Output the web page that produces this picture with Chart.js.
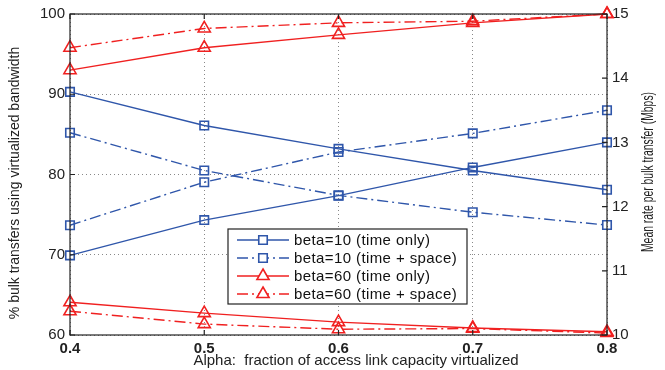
<!DOCTYPE html>
<html>
<head>
<meta charset="utf-8">
<script src="https://cdn.jsdelivr.net/npm/chart.js@4.4.1/dist/chart.umd.min.js"></script>
<style>
  html, body { margin: 0; padding: 0; background: #fff; }
  #wrap { width: 665px; height: 370px; }
</style>
</head>
<body>
<div id="wrap"><canvas id="c" width="665" height="370"></canvas></div>
<script>
// alpha values (x axis)
const alpha = [0.4, 0.5, 0.6, 0.7, 0.8];

// left axis: % bulk transfers using virtualized bandwidth
const pctB10Time = [90.3, 86.1, 83.2, 80.5, 78.1];
const pctB10Space = [85.2, 80.5, 77.4, 75.3, 73.7];
const pctB60Time = [93.0, 95.8, 97.4, 98.9, 100.0];
const pctB60Space = [95.8, 98.2, 98.9, 99.1, 100.0];

// right axis: mean rate per bulk transfer (Mbps)
const rateB10Time = [11.24, 11.79, 12.17, 12.61, 13.0];
const rateB10Space = [11.71, 12.38, 12.85, 13.14, 13.5];
const rateB60Time = [10.51, 10.34, 10.2, 10.11, 10.05];
const rateB60Space = [10.37, 10.17, 10.09, 10.1, 10.03];

const legendLabels = ['beta=10 (time only)', 'beta=10 (time + space)', 'beta=60 (time only)', 'beta=60 (time + space)'];
const leftTicks = [60, 70, 80, 90, 100];
const rightTicks = [10, 11, 12, 13, 14, 15];

const BLUE = '#2f56aa';
const RED = '#f02020';
const DASHDOT = [11, 4, 2, 4];
const FONT = '"Liberation Sans", Arial, Helvetica, sans-serif';

function pts(ys) {
    return ys.map((y, i) => ({ x: alpha[i], y: y }));
}

function ds(ys, axis, color, dashed, style) {
    return {
        data: pts(ys),
        yAxisID: axis,
        borderColor: color,
        borderWidth: 1.4,
        borderDash: dashed ? DASHDOT : [],
        pointStyle: style,
        pointRadius: style === 'rect' ? 6 : 7,
        pointBorderWidth: 1.6,
        pointBackgroundColor: 'rgba(0,0,0,0)',
        pointBorderColor: color,
        fill: false,
        tension: 0,
        clip: false
    };
}

// legend, box, titles and inward ticks
const decor = {
    id: 'decor',
    afterDatasetsDraw(chart) {
        const ctx = chart.ctx;
        const a = chart.chartArea;
        const yl = chart.scales.y;
        const yr = chart.scales.y2;
        const x = chart.scales.x;
        ctx.save();

        // box
        ctx.strokeStyle = '#222';
        ctx.lineWidth = 1.2;
        ctx.setLineDash([]);
        ctx.strokeRect(a.left, a.top, a.right - a.left, a.bottom - a.top);

        // inward ticks
        ctx.beginPath();
        leftTicks.forEach(v => {
            const py = yl.getPixelForValue(v);
            ctx.moveTo(a.left, py); ctx.lineTo(a.left + 5, py);
        });
        rightTicks.forEach(v => {
            const py = yr.getPixelForValue(v);
            ctx.moveTo(a.right, py); ctx.lineTo(a.right - 5, py);
        });
        alpha.forEach(v => {
            const px = x.getPixelForValue(v);
            ctx.moveTo(px, a.bottom); ctx.lineTo(px, a.bottom - 5);
            ctx.moveTo(px, a.top); ctx.lineTo(px, a.top + 5);
        });
        ctx.stroke();

        // titles
        ctx.fillStyle = '#222';
        ctx.textAlign = 'center';
        ctx.textBaseline = 'middle';
        ctx.font = '15px ' + FONT;
        ctx.fillText('Alpha:  fraction of access link capacity virtualized', 356, 361);
        ctx.font = '14px ' + FONT;
        ctx.save();
        ctx.translate(15, 183);
        ctx.rotate(-Math.PI / 2);
        ctx.fillText('% bulk transfers using virtualized bandwidth', 0, 0);
        ctx.restore();
        ctx.font = '16px ' + FONT;
        ctx.save();
        ctx.translate(649, 172);
        ctx.rotate(-Math.PI / 2);
        ctx.scale(0.65, 1);
        ctx.fillText('Mean rate per bulk transfer (Mbps)', 0, 0);
        ctx.restore();

        // legend
        const bx = 228, by = 229, bw = 239, bh = 75;
        ctx.fillStyle = '#fff';
        ctx.fillRect(bx, by, bw, bh);
        ctx.strokeStyle = '#222';
        ctx.lineWidth = 1.2;
        ctx.strokeRect(bx, by, bw, bh);
        const colors = [BLUE, BLUE, RED, RED];
        const dashes = [false, true, false, true];
        const styles = ['rect', 'rect', 'triangle', 'triangle'];
        legendLabels.forEach((t, i) => {
            const ry = by + 11 + i * 18;
            ctx.strokeStyle = colors[i];
            ctx.lineWidth = 1.4;
            ctx.setLineDash(dashes[i] ? DASHDOT : []);
            ctx.beginPath();
            ctx.moveTo(bx + 9, ry); ctx.lineTo(bx + 61, ry);
            ctx.stroke();
            ctx.setLineDash([]);
            ctx.lineWidth = 1.6;
            ctx.fillStyle = '#fff';
            Chart.helpers.drawPoint(ctx, {
                pointStyle: styles[i], radius: styles[i] === 'rect' ? 6 : 7,
                borderWidth: 1.6, rotation: 0
            }, bx + 35, ry);
            ctx.fillStyle = '#111';
            ctx.font = '15px ' + FONT;
            ctx.letterSpacing = '0.4px';
            ctx.textAlign = 'left';
            ctx.fillText(t, bx + 66, ry + 1);
            ctx.letterSpacing = '0px';
        });
        ctx.restore();
    }
};

new Chart(document.getElementById('c'), {
    type: 'line',
    data: {
        datasets: [
            ds(pctB10Time, 'y', BLUE, false, 'rect'),
            ds(pctB10Space, 'y', BLUE, true, 'rect'),
            ds(pctB60Time, 'y', RED, false, 'triangle'),
            ds(pctB60Space, 'y', RED, true, 'triangle'),
            ds(rateB10Time, 'y2', BLUE, false, 'rect'),
            ds(rateB10Space, 'y2', BLUE, true, 'rect'),
            ds(rateB60Time, 'y2', RED, false, 'triangle'),
            ds(rateB60Space, 'y2', RED, true, 'triangle')
        ]
    },
    options: {
        responsive: false,
        animation: false,
        layout: { padding: { top: 13, left: 0, right: 0, bottom: 0 } },
        plugins: { legend: { display: false }, tooltip: { enabled: false } },
        scales: {
            x: {
                type: 'linear',
                min: 0.4, max: 0.8,
                afterFit: s => { s.height = 35; },
                afterBuildTicks: s => { s.ticks = alpha.map(v => ({ value: v })); },
                border: { display: false, dash: [1, 3] },
                grid: { color: '#888', drawTicks: false, lineWidth: 1 },
                ticks: {
                    padding: 5,
                    color: '#222',
                    font: { family: FONT, size: 15, weight: 'bold' },
                    callback: v => v.toFixed(1),
                    maxRotation: 0
                }
            },
            y: {
                position: 'left',
                min: 60, max: 100,
                afterFit: s => { s.width = 70; },
                afterBuildTicks: s => { s.ticks = leftTicks.map(v => ({ value: v })); },
                border: { display: false, dash: [1, 3] },
                grid: { color: '#888', drawTicks: false, lineWidth: 1 },
                ticks: {
                    padding: 5,
                    color: '#222',
                    font: { family: FONT, size: 15 }
                }
            },
            y2: {
                position: 'right',
                min: 10, max: 15,
                afterFit: s => { s.width = 58; },
                afterBuildTicks: s => { s.ticks = rightTicks.map(v => ({ value: v })); },
                border: { display: false },
                grid: { display: false, drawTicks: false },
                ticks: {
                    padding: 5,
                    color: '#222',
                    font: { family: FONT, size: 15 }
                }
            }
        }
    },
    plugins: [decor]
});
</script>
</body>
</html>
